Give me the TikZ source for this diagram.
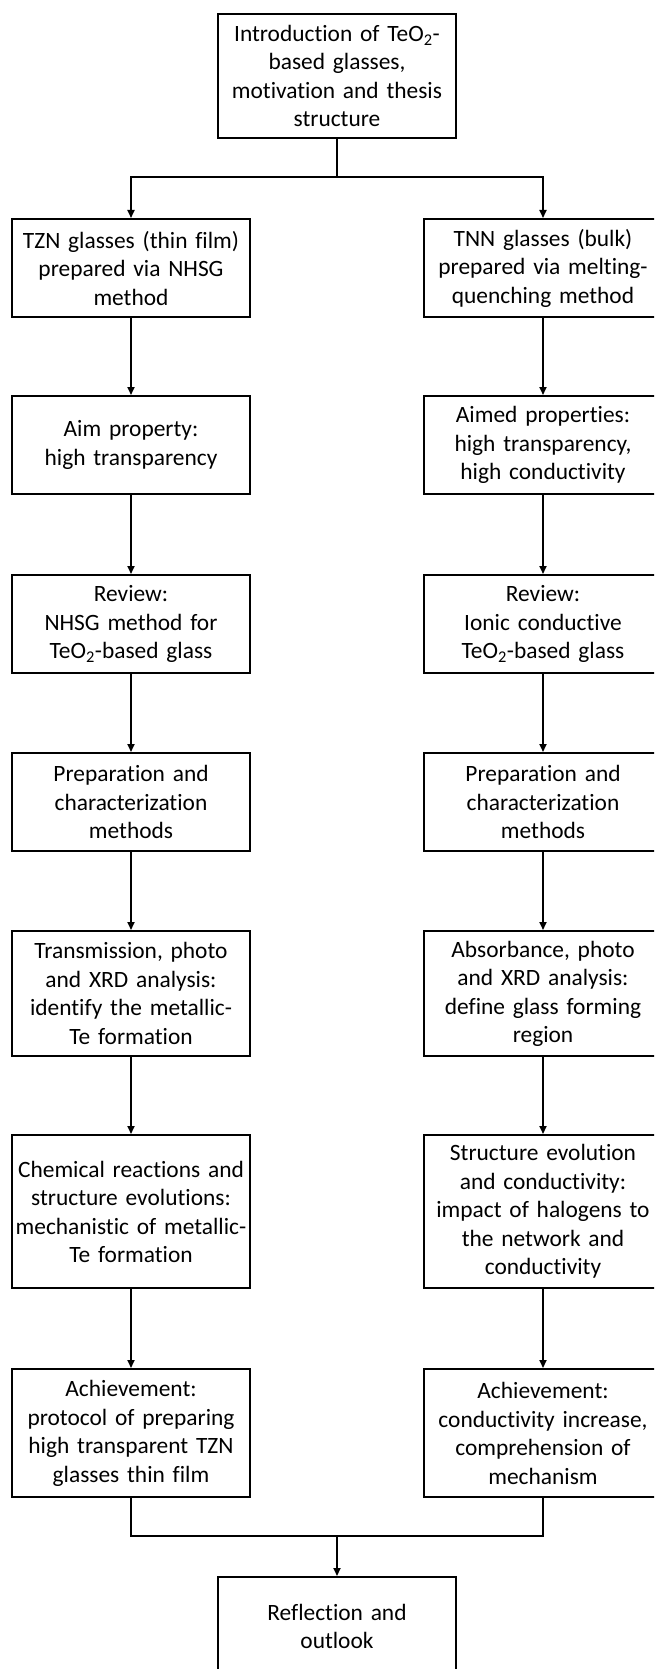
\documentclass[tikz,border=0pt]{standalone}
\usepackage{fontspec}
\setmainfont{Carlito}[Ligatures={NoCommon}, WordSpace=0.8]
\usetikzlibrary{arrows.meta}
\begin{document}
\begin{tikzpicture}[x=1pt,y=-1pt,
  box/.style={draw=black, line width=2.4pt, rectangle, minimum width=238pt,
    text width=234pt, align=center, inner sep=0pt, anchor=north,
    font=\fontsize{23.4pt}{28.5pt}\selectfont},
  three/.style={box, minimum height=98pt},
  four/.style={box, minimum height=125pt},
  five/.style={box, minimum height=153pt},
  conn/.style={line width=1.8pt, draw=black},
  arr/.style={conn, -{Triangle[length=8pt,width=7pt]}}]
\useasboundingbox (0,0) rectangle (654,1669);
\clip (0,0) rectangle (654,1669);
% top
\node[four, minimum height=124pt] (top) at (337,13) {Introduction of TeO\textsubscript{2}-\\based glasses,\\motivation and thesis\\structure};
% left column
\node[three] (L1) at (131,218) {TZN glasses (thin film)\\prepared via NHSG\\method};
\node[three] (L2) at (131,395) {Aim property:\\high transparency};
\node[three] (L3) at (131,574) {Review:\\NHSG method for\\TeO\textsubscript{2}-based glass};
\node[three] (L4) at (131,752) {Preparation and\\characterization\\methods};
\node[four] (L5) at (131,930) {Transmission, photo\\and XRD analysis:\\identify the metallic-\\Te formation};
\node[five] (L6) at (131,1134) {Chemical reactions and\\structure evolutions:\\mechanistic of metallic-\\Te formation};
\node[four, minimum height=128pt] (L7) at (131,1368) {Achievement:\\protocol of preparing\\high transparent TZN\\glasses thin film};
% right column
\node[three] (R1) at (543,218) {TNN glasses (bulk)\\prepared via melting-\\quenching method};
\node[three] (R2) at (543,395) {Aimed properties:\\high transparency,\\high conductivity};
\node[three] (R3) at (543,574) {Review:\\Ionic conductive\\TeO\textsubscript{2}-based glass};
\node[three] (R4) at (543,752) {Preparation and\\characterization\\methods};
\node[four] (R5) at (543,930) {Absorbance, photo\\and XRD analysis:\\define glass forming\\region};
\node[five] (R6) at (543,1134) {Structure evolution\\and conductivity:\\impact of halogens to\\the network and\\conductivity};
\node[four, minimum height=128pt] (R7) at (543,1368) {Achievement:\\conductivity increase,\\comprehension of\\mechanism};
% bottom
\node[three] (bot) at (337,1576) {Reflection and\\outlook};
% connectors
\coordinate (split) at (337,177);
\coordinate (merge) at (337,1536);
\draw[conn] (top.south) -- (split);
\draw[arr] (split) -| (L1.north);
\draw[arr] (split) -| (R1.north);
\foreach \a/\b in {1/2,2/3,3/4,4/5,5/6,6/7}{
  \draw[arr] (L\a.south) -- (L\b.north);
  \draw[arr] (R\a.south) -- (R\b.north);
}
\draw[conn] (L7.south) |- (merge);
\draw[conn] (R7.south) |- (merge);
\draw[arr] (merge) -- (bot.north);
\end{tikzpicture}
\end{document}
